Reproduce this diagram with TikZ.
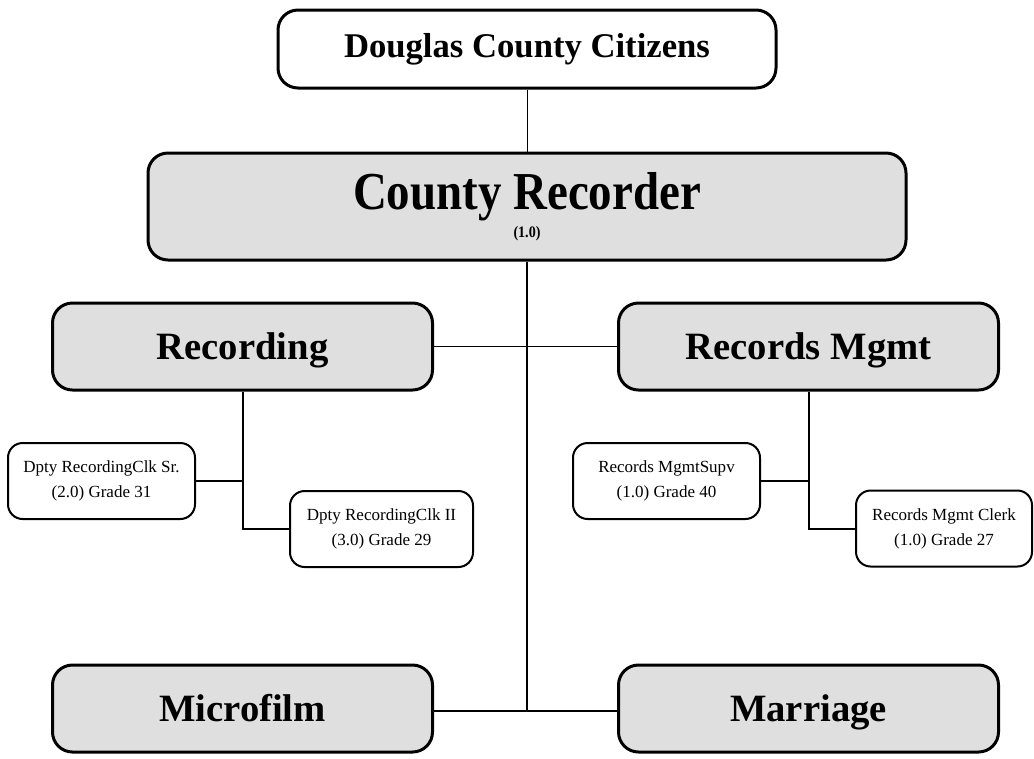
\documentclass[tikz,border=0pt]{standalone}
\usepackage{fontspec}
\setmainfont{Liberation Serif}
\newfontfamily\narrowserif[FakeStretch=0.88]{Liberation Serif}
\definecolor{boxgray}{HTML}{DFDFDF}

\begin{document}
\begin{tikzpicture}[x=0.75pt, y=-0.75pt,
        unitbox/.style={draw=black, line width=2.25pt, rounded corners=15pt, inner sep=0pt, align=center, font=\bfseries\fontsize{29}{34}\selectfont},
        deptbox/.style={unitbox, fill=boxgray, minimum width=285pt, minimum height=65.25pt, text height=19pt, text depth=0pt},
        postbox/.style={draw=black, line width=1.5pt, rounded corners=11pt, fill=white, inner sep=0pt, align=center, minimum height=57pt, font=\fontsize{12.75}{18.75}\selectfont},
        link/.style={draw=black, line width=1.5pt}]
            \useasboundingbox (0,0) rectangle (1034,758);
            \node[unitbox, fill=white, minimum width=373.5pt, minimum height=58.5pt, font=\bfseries\fontsize{26}{30}\selectfont] (citizens) at (527,49) {Douglas County Citizens};
            \node[unitbox, fill=boxgray, minimum width=568.5pt, minimum height=80.25pt] (recorder) at (527,206.5) {{\narrowserif\bfseries\fontsize{40}{44}\selectfont County Recorder}\\[-13pt]{\narrowserif\bfseries\fontsize{12}{13}\selectfont (1.0)}};
            \node[deptbox] (recording) at (242.5,346.5) {Recording};
            \node[deptbox] (mgmt) at (808.5,346.5) {Records Mgmt};
            \node[deptbox] (microfilm) at (242.5,708.5) {Microfilm};
            \node[deptbox] (marriage) at (808.5,708.5) {Marriage};
            \node[postbox, minimum width=140.25pt] (clksr) at (101.5,481) {Dpty RecordingClk Sr.\\(2.0) Grade 31};
            \node[postbox, minimum width=137.25pt] (clkii) at (381.5,529) {Dpty RecordingClk II\\(3.0) Grade 29};
            \node[postbox, minimum width=140.25pt] (supv) at (666.5,481) {Records MgmtSupv\\(1.0) Grade 40};
            \node[postbox, minimum width=132pt] (clerk) at (944,528.5) {Records Mgmt Clerk\\(1.0) Grade 27};
            \coordinate (hub) at (527,711);
            \draw[line width=0.75pt] (citizens.south) -- (recorder.north);
            \draw[line width=1pt] (recorder.south) -- (hub);
            \draw[line width=1.2pt] (recording.east) -- (mgmt.west);
            \draw[line width=1.2pt] (microfilm.east |- hub) -- (marriage.west |- hub);
            \draw[link] (recording.south) |- (clkii.west);
            \draw[link] (clksr.east) -- (clksr.east -| recording.south);
            \draw[link] (mgmt.south) |- (clerk.west);
            \draw[link] (supv.east) -- (supv.east -| mgmt.south);
        \end{tikzpicture}
\end{document}
